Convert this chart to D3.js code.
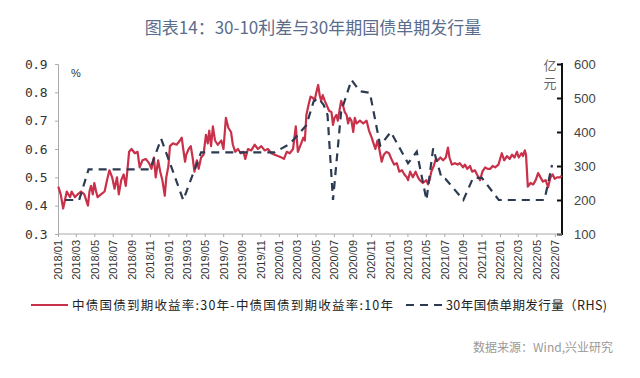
<!DOCTYPE html>
<html>
<head>
<meta charset="utf-8">
<script src="https://cdn.jsdelivr.net/npm/d3@7"></script>
<style>
  body { margin: 0; background: #fff; }
  svg { display: block; }
</style>
</head>
<body>
<svg id="chart" width="640" height="378"></svg>
<script>
// 30年-10年国债利差 (%)，按日期读图
const spreadDates = [
  '2018-01-02','2018-01-10','2018-01-18','2018-01-24','2018-01-30','2018-02-04','2018-02-10','2018-02-15','2018-02-26',
  '2018-03-07','2018-03-18','2018-03-29','2018-04-10','2018-04-15','2018-04-20','2018-04-26','2018-05-01','2018-05-07',
  '2018-05-12','2018-05-23','2018-06-04','2018-06-12','2018-06-20','2018-06-29','2018-07-07','2018-07-15','2018-07-21',
  '2018-07-29','2018-08-06','2018-08-13','2018-08-18','2018-08-24','2018-09-01','2018-09-12','2018-09-21','2018-09-28',
  '2018-10-07','2018-10-18','2018-10-29','2018-11-06','2018-11-14','2018-11-20','2018-11-28','2018-12-05','2018-12-12',
  '2018-12-20','2018-12-25','2019-01-01','2019-01-06','2019-01-16','2019-01-28','2019-02-08','2019-02-14','2019-02-19',
  '2019-02-25','2019-03-01','2019-03-09','2019-03-16','2019-03-22','2019-03-28','2019-04-05','2019-04-11','2019-04-19',
  '2019-04-27','2019-05-05','2019-05-11','2019-05-16','2019-05-22','2019-05-28','2019-06-04','2019-06-13','2019-06-25',
  '2019-07-02','2019-07-10','2019-07-18','2019-07-27','2019-08-02','2019-08-10','2019-08-19','2019-08-28','2019-09-06',
  '2019-09-12','2019-09-21','2019-10-02','2019-10-13','2019-10-24','2019-11-04','2019-11-15','2019-11-26','2019-12-07',
  '2019-12-18','2019-12-29','2020-01-10','2020-01-18','2020-01-27','2020-02-06','2020-02-17','2020-02-26','2020-03-04',
  '2020-03-15','2020-03-22','2020-03-27','2020-04-01','2020-04-09','2020-04-15','2020-04-23','2020-04-28','2020-05-04',
  '2020-05-10','2020-05-15','2020-05-20','2020-05-25','2020-06-01','2020-06-09','2020-06-15','2020-06-23','2020-06-28',
  '2020-07-03','2020-07-09','2020-07-14','2020-07-20','2020-07-25','2020-08-01','2020-08-06','2020-08-12','2020-08-17',
  '2020-08-22','2020-08-28','2020-09-03','2020-09-08','2020-09-14','2020-09-25','2020-10-06','2020-10-17','2020-10-25',
  '2020-11-03','2020-11-09','2020-11-15','2020-11-22','2020-11-28','2020-12-06','2020-12-13','2020-12-22','2020-12-30',
  '2021-01-09','2021-01-16','2021-01-25','2021-02-02','2021-02-11','2021-02-19','2021-02-27','2021-03-03','2021-03-10',
  '2021-03-19','2021-03-28','2021-04-05','2021-04-11','2021-04-21','2021-05-03','2021-05-08','2021-05-13','2021-05-19',
  '2021-05-27','2021-06-03','2021-06-10','2021-06-18','2021-06-27','2021-07-06','2021-07-13','2021-07-18','2021-07-26',
  '2021-08-05','2021-08-14','2021-08-21','2021-09-01','2021-09-07','2021-09-15','2021-09-24','2021-10-01','2021-10-10',
  '2021-10-17','2021-10-27','2021-11-04','2021-11-13','2021-11-21','2021-11-30','2021-12-08','2021-12-16','2021-12-27',
  '2022-01-07','2022-01-15','2022-01-24','2022-02-02','2022-02-10','2022-02-18','2022-02-26','2022-03-04','2022-03-13',
  '2022-03-18','2022-03-24','2022-03-28','2022-04-03','2022-04-12','2022-04-21','2022-04-29','2022-05-07','2022-05-15',
  '2022-05-23','2022-06-01','2022-06-09','2022-06-17','2022-06-24','2022-07-01','2022-07-09','2022-07-18','2022-07-24'
];
const spreadValues = [
  0.467,0.44,0.39,0.42,0.45,0.44,0.43,0.45,0.43,
  0.44,0.45,0.44,0.40,0.45,0.47,0.44,0.48,0.45,
  0.43,0.44,0.45,0.49,0.525,0.50,0.46,0.50,0.44,
  0.49,0.51,0.47,0.52,0.59,0.60,0.585,0.59,0.535,
  0.56,0.565,0.55,0.53,0.57,0.50,0.56,0.52,0.49,
  0.435,0.50,0.54,0.61,0.62,0.615,0.63,0.64,0.60,
  0.555,0.58,0.60,0.61,0.57,0.52,0.56,0.53,0.57,
  0.58,0.65,0.62,0.665,0.61,0.68,0.63,0.615,0.63,
  0.60,0.71,0.675,0.66,0.615,0.59,0.60,0.585,0.59,
  0.565,0.60,0.595,0.615,0.60,0.61,0.595,0.60,0.585,
  0.58,0.575,0.57,0.565,0.59,0.585,0.60,0.68,0.59,
  0.62,0.64,0.63,0.72,0.76,0.785,0.78,0.77,0.80,
  0.826,0.79,0.77,0.79,0.77,0.75,0.735,0.73,0.685,
  0.71,0.72,0.70,0.74,0.77,0.75,0.73,0.72,0.69,
  0.71,0.70,0.66,0.71,0.69,0.70,0.69,0.70,0.665,
  0.64,0.62,0.60,0.63,0.60,0.555,0.58,0.59,0.585,
  0.56,0.545,0.55,0.52,0.525,0.51,0.50,0.49,0.52,
  0.50,0.52,0.50,0.49,0.48,0.49,0.475,0.49,0.52,
  0.54,0.565,0.56,0.57,0.56,0.57,0.605,0.57,0.545,
  0.55,0.545,0.55,0.535,0.545,0.53,0.54,0.52,0.525,
  0.51,0.49,0.52,0.535,0.53,0.53,0.54,0.535,0.545,
  0.585,0.56,0.575,0.565,0.58,0.57,0.59,0.57,0.585,
  0.575,0.595,0.58,0.467,0.48,0.475,0.49,0.515,0.50,
  0.485,0.49,0.465,0.50,0.51,0.495,0.50,0.50,0.505
];

// 30年国债单期发行量 (亿元，右轴)
const issueDates = [
  '2018-01-25','2018-03-12','2018-04-12','2018-11-01','2018-12-08','2019-02-19','2019-04-19','2019-12-18',
  '2020-02-06','2020-04-01','2020-04-25','2020-05-10','2020-05-28','2020-06-10','2020-06-28','2020-07-25',
  '2020-08-28','2020-09-25','2020-10-28','2020-12-01','2021-01-05','2021-03-03','2021-04-01','2021-05-03',
  '2021-05-25','2021-06-22','2021-07-05','2021-09-02','2021-10-04','2021-11-02','2021-12-28','2022-05-28',
  '2022-06-22'
];
const issueValues = [
  200,200,290,290,380,200,340,340,
  365,420,490,500,480,450,200,460,
  553,520,515,360,400,308,342,200,
  352,265,262,200,265,265,200,200,
  303
];

const xTicks = d3.timeMonth.range(new Date(2018, 0, 1), new Date(2022, 7, 1), 2);
const leftTicks = [0.3, 0.4, 0.5, 0.6, 0.7, 0.8, 0.9];
const rightTicks = [100, 200, 300, 400, 500, 600];

const title = '图表14：30-10利差与30年期国债单期发行量';
const legendNames = ['中债国债到期收益率:30年-中债国债到期收益率:10年', '30年国债单期发行量（RHS)'];
const source = '数据来源：Wind,兴业研究';

const parse = d3.timeParse('%Y-%m-%d');
const spread = spreadDates.map((d, i) => ({ date: parse(d), value: spreadValues[i] }));
const issue = issueDates.map((d, i) => ({ date: parse(d), value: issueValues[i] }));

const svg = d3.select('#chart');
const red = '#c9304a', navy = '#2c3b52';
const plotL = 58, plotR = 562, plotT = 64, plotB = 234;

const x = d3.scaleTime().domain([new Date(2018, 0, 1), new Date(2022, 6, 25)]).range([plotL, plotR]);
const yL = d3.scaleLinear().domain([0.3, 0.9]).range([plotB, plotT]);
const yR = d3.scaleLinear().domain([100, 600]).range([plotB, plotT]);

// title
svg.append('text')
   .attr('x', 313).attr('y', 34)
   .attr('text-anchor', 'middle')
   .attr('font-family', 'Noto Sans CJK SC')
   .attr('font-size', 17)
   .attr('fill', '#5a6d8c')
   .text(title);

// left axis
const gL = svg.append('g')
   .attr('transform', `translate(${plotL},0)`)
   .call(d3.axisLeft(yL).tickValues(leftTicks).tickSize(3).tickPadding(8).tickFormat(d3.format('.1f')));
gL.selectAll('path, line').attr('stroke', '#aaa');
gL.selectAll('text')
  .attr('font-family', 'DejaVu Sans Mono').attr('font-size', 13).attr('fill', '#333')
  .attr('letter-spacing', '-0.5px');

// right axis
const gR = svg.append('g')
   .attr('transform', `translate(${plotR},0)`)
   .call(d3.axisRight(yR).tickValues(rightTicks).tickSize(-5).tickPadding(12));
gR.selectAll('path, line').attr('stroke', '#111').attr('stroke-width', 2);
gR.select('path').attr('d', `M0,${plotT - 1}V${plotB + 1}`);
gR.selectAll('text')
  .attr('font-family', 'Liberation Sans').attr('font-size', 13).attr('fill', '#444');

// bottom axis
const gX = svg.append('g')
   .attr('transform', `translate(0,${plotB})`)
   .call(d3.axisBottom(x).tickValues(xTicks).tickSize(3).tickFormat(d3.timeFormat('%Y/%m')));
gX.select('path').attr('d', `M${plotL},0H${plotR}`).attr('stroke', '#aaa');
gX.selectAll('line').attr('stroke', '#aaa');
gX.selectAll('text')
  .attr('font-family', 'Liberation Sans').attr('font-size', 11).attr('fill', '#333')
  .attr('text-anchor', 'end')
  .attr('transform', 'rotate(-90)')
  .attr('x', -6).attr('y', 0).attr('dy', '0.35em');

// units
svg.append('text').attr('x', 71).attr('y', 77)
   .attr('font-family', 'Liberation Sans').attr('font-size', 11).attr('fill', '#333').text('%');
svg.append('text').attr('x', 550).attr('y', 70).attr('text-anchor', 'middle')
   .attr('font-family', 'Noto Sans CJK SC').attr('font-size', 13).attr('fill', '#666').text('亿');
svg.append('text').attr('x', 550).attr('y', 88).attr('text-anchor', 'middle')
   .attr('font-family', 'Noto Sans CJK SC').attr('font-size', 13).attr('fill', '#666').text('元');

// lines
svg.append('path').datum(spread)
   .attr('fill', 'none').attr('stroke', red).attr('stroke-width', 2.2).attr('stroke-linejoin', 'round')
   .attr('d', d3.line().x(d => x(d.date)).y(d => yL(d.value)));
svg.append('path').datum(issue)
   .attr('fill', 'none').attr('stroke', navy).attr('stroke-width', 2.2).attr('stroke-dasharray', '8,6')
   .attr('d', d3.line().x(d => x(d.date)).y(d => yR(d.value)));

// legend
const lg = svg.append('g').attr('font-family', 'Noto Sans CJK SC').attr('font-size', 12.5).attr('fill', '#222');
lg.append('line').attr('x1', 31).attr('x2', 68).attr('y1', 305).attr('y2', 305)
  .attr('stroke', red).attr('stroke-width', 2);
lg.append('text').attr('x', 72).attr('y', 309.5)
  .attr('textLength', 321).attr('lengthAdjust', 'spacing').text(legendNames[0]);
lg.append('line').attr('x1', 406).attr('x2', 443).attr('y1', 305).attr('y2', 305)
  .attr('stroke', navy).attr('stroke-width', 2.2).attr('stroke-dasharray', '8,6');
lg.append('text').attr('x', 446).attr('y', 309.5)
  .attr('textLength', 161).attr('lengthAdjust', 'spacing').text(legendNames[1]);

// source
svg.append('text').attr('x', 613).attr('y', 352).attr('text-anchor', 'end')
   .attr('font-family', 'Noto Sans CJK SC').attr('font-size', 12).attr('fill', '#999').text(source);
</script>
</body>
</html>
